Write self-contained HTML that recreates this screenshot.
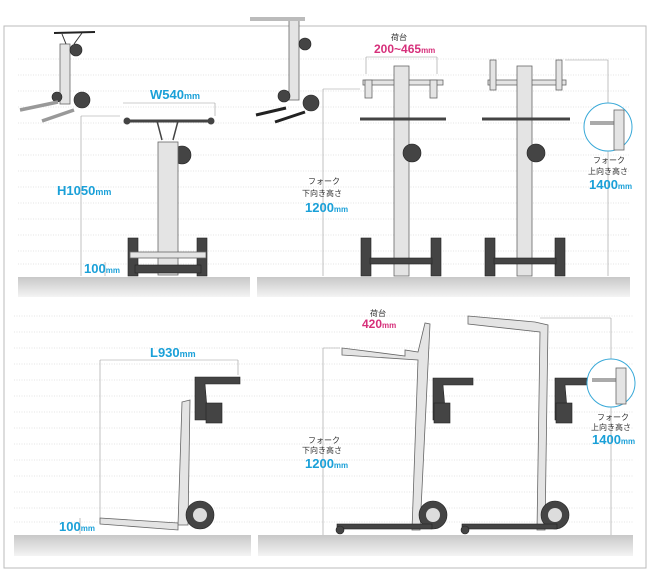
<!DOCTYPE html>
<html><head><meta charset="utf-8"><style>
body{margin:0;background:#fff;}
svg{display:block;font-family:"Liberation Sans","Noto Sans CJK JP",sans-serif;}
.b{fill:#1aa0d8;font-weight:bold;font-size:13px}
.p{fill:#d62f7a;font-weight:bold;font-size:12px}
.j{fill:#333;font-size:8px}
.d{stroke:#999;stroke-width:0.6;fill:none}
.g{stroke:#ccc;stroke-width:0.6;stroke-dasharray:1 1.5}
.al{fill:#e4e4e4;stroke:#666;stroke-width:0.8}
.dk{fill:#444;stroke:#222;stroke-width:0.6}
</style></head><body>
<svg width="650" height="577" viewBox="0 0 650 577">
<defs>
<linearGradient id="fl" x1="0" y1="0" x2="0" y2="1"><stop offset="0" stop-color="#c8c8c8"/><stop offset="1" stop-color="#f4f4f4"/></linearGradient>
</defs>
<rect x="4" y="26" width="642" height="542" fill="#fff" stroke="#bbb"/>
<g class="g">
<line x1="18" y1="59" x2="630" y2="59"/><line x1="18" y1="75" x2="630" y2="75"/><line x1="18" y1="91" x2="630" y2="91"/><line x1="18" y1="107" x2="630" y2="107"/><line x1="18" y1="123" x2="630" y2="123"/><line x1="18" y1="139" x2="630" y2="139"/><line x1="18" y1="155" x2="630" y2="155"/><line x1="18" y1="171" x2="630" y2="171"/><line x1="18" y1="187" x2="630" y2="187"/><line x1="18" y1="203" x2="630" y2="203"/><line x1="18" y1="219" x2="630" y2="219"/><line x1="18" y1="235" x2="630" y2="235"/><line x1="18" y1="251" x2="630" y2="251"/><line x1="18" y1="264" x2="630" y2="264"/>
<line x1="14" y1="316" x2="633" y2="316"/><line x1="14" y1="332" x2="633" y2="332"/><line x1="14" y1="348" x2="633" y2="348"/><line x1="14" y1="364" x2="633" y2="364"/><line x1="14" y1="380" x2="633" y2="380"/><line x1="14" y1="396" x2="633" y2="396"/><line x1="14" y1="412" x2="633" y2="412"/><line x1="14" y1="428" x2="633" y2="428"/><line x1="14" y1="444" x2="633" y2="444"/><line x1="14" y1="460" x2="633" y2="460"/><line x1="14" y1="476" x2="633" y2="476"/><line x1="14" y1="492" x2="633" y2="492"/><line x1="14" y1="508" x2="633" y2="508"/><line x1="14" y1="522" x2="633" y2="522"/>
</g>
<rect x="18" y="277" width="232" height="20" fill="url(#fl)"/>
<rect x="257" y="277" width="373" height="20" fill="url(#fl)"/>
<rect x="14" y="535" width="237" height="21" fill="url(#fl)"/>
<rect x="258" y="535" width="375" height="21" fill="url(#fl)"/>

<g>
<rect x="60" y="44" width="10" height="60" class="al"/><path d="M54 33 L95 32" stroke="#222" stroke-width="2" fill="none"/>
<path d="M62 34 L66 44 M82 33 L74 44" stroke="#333" stroke-width="1" fill="none"/>
<circle cx="76" cy="50" r="6" class="dk"/><circle cx="57" cy="97" r="5" class="dk"/><circle cx="82" cy="100" r="8" class="dk"/>
<path d="M20 110 L58 102 M42 121 L74 110" stroke="#999" stroke-width="3.5"/>
<rect x="289" y="20" width="10" height="80" class="al"/><rect x="250" y="17" width="55" height="4" fill="#bbb"/>
<circle cx="305" cy="44" r="6" class="dk"/><circle cx="284" cy="96" r="6" class="dk"/><circle cx="311" cy="103" r="8" class="dk"/>
<path d="M256 115 L286 108 M275 122 L305 112" stroke="#222" stroke-width="3"/>
</g>

<g>
<line x1="123" y1="103" x2="215" y2="103" class="d"/><line x1="215" y1="103" x2="215" y2="116" class="d"/>
<text x="150" y="99" class="b">W540<tspan font-size="9">mm</tspan></text>
<line x1="125" y1="121" x2="213" y2="121" stroke="#444" stroke-width="3"/><circle cx="127" cy="121" r="3.5" fill="#444"/><circle cx="211" cy="121" r="3.5" fill="#444"/>
<path d="M157 121 L162 140 M178 121 L173 140" stroke="#444" stroke-width="1.5" fill="none"/>
<circle cx="182" cy="155" r="9" class="dk"/>
<rect x="158" y="142" width="20" height="133" class="al"/>
<rect x="128" y="238" width="10" height="38" class="dk"/><rect x="197" y="238" width="10" height="38" class="dk"/>
<rect x="130" y="252" width="76" height="6" class="al"/><rect x="135" y="265" width="66" height="8" class="dk"/>
<line x1="81" y1="116" x2="81" y2="276" class="d"/><line x1="81" y1="116" x2="120" y2="116" class="d"/>
<text x="57" y="195" class="b">H1050<tspan font-size="9">mm</tspan></text>
<line x1="105" y1="262" x2="105" y2="276" class="d"/>
<text x="84" y="273" class="b" font-size="11">100<tspan font-size="8">mm</tspan></text>
</g>

<g>
<text x="391" y="40" class="j" font-size="9">荷台</text>
<text x="374" y="53" class="p">200~465<tspan font-size="8">mm</tspan></text>
<line x1="366" y1="57" x2="366" y2="74" class="d"/><line x1="437" y1="57" x2="437" y2="74" class="d"/><line x1="366" y1="57" x2="437" y2="57" class="d"/>
<rect x="363" y="80" width="80" height="5" class="al"/><rect x="365" y="80" width="7" height="18" class="al"/><rect x="430" y="80" width="7" height="18" class="al"/>
<rect x="394" y="66" width="15" height="210" class="al"/>
<line x1="360" y1="119" x2="446" y2="119" stroke="#444" stroke-width="3"/>
<circle cx="412" cy="153" r="9" class="dk"/>
<rect x="361" y="238" width="10" height="38" class="dk"/><rect x="431" y="238" width="10" height="38" class="dk"/><rect x="370" y="258" width="62" height="6" class="dk"/>
<line x1="323" y1="89" x2="323" y2="276" class="d"/><line x1="323" y1="89" x2="360" y2="89" class="d"/>
<text x="308" y="184" class="j">フォーク</text><text x="302" y="196" class="j">下向き高さ</text>
<text x="305" y="212" class="b" font-size="12">1200<tspan font-size="8">mm</tspan></text>

<rect x="488" y="80" width="78" height="5" class="al"/><rect x="490" y="60" width="6" height="30" class="al"/><rect x="556" y="60" width="6" height="30" class="al"/>
<rect x="517" y="66" width="15" height="210" class="al"/>
<line x1="482" y1="119" x2="570" y2="119" stroke="#444" stroke-width="3"/>
<circle cx="536" cy="153" r="9" class="dk"/>
<rect x="485" y="238" width="10" height="38" class="dk"/><rect x="555" y="238" width="10" height="38" class="dk"/><rect x="494" y="258" width="62" height="6" class="dk"/>
<line x1="565" y1="60" x2="608" y2="60" class="d"/><line x1="608" y1="60" x2="608" y2="276" class="d"/>
<circle cx="608" cy="127" r="24" fill="#fff" stroke="#39a9d8"/><rect x="590" y="121" width="30" height="4" fill="#aaa"/><rect x="614" y="110" width="10" height="40" class="al"/>
<text x="593" y="163" class="j">フォーク</text><text x="588" y="174" class="j">上向き高さ</text>
<text x="589" y="189" class="b" font-size="12">1400<tspan font-size="8">mm</tspan></text>
</g>

<g>
<line x1="100" y1="360" x2="238" y2="360" class="d"/><line x1="238" y1="360" x2="238" y2="375" class="d"/><line x1="100" y1="360" x2="100" y2="520" class="d"/>
<text x="150" y="357" class="b">L930<tspan font-size="9">mm</tspan></text>
<path d="M182 402 L190 400 L188 525 L178 525 Z" class="al"/>
<path d="M195 377 L240 377 L240 384 L205 384 L208 420 L195 420Z" class="dk"/>
<rect x="206" y="403" width="16" height="20" class="dk"/>
<path d="M100 518 L178 523 L178 530 L100 524Z" class="al"/>
<circle cx="200" cy="515" r="14" class="dk"/><circle cx="200" cy="515" r="7" fill="#ddd"/>
<line x1="80" y1="518" x2="80" y2="534" class="d"/>
<text x="59" y="531" class="b" font-size="11">100<tspan font-size="8">mm</tspan></text>

<text x="370" y="316" class="j" font-size="9">荷台</text>
<text x="362" y="328" class="p">420<tspan font-size="8">mm</tspan></text>
<path d="M342 348 L405 356 L405 350 L418 352 L425 323 L430 324 L420 530 L412 530 L418 360 L342 355Z" class="al"/>
<path d="M433 378 L473 378 L473 385 L443 385 L446 420 L433 420Z" class="dk"/>
<rect x="434" y="403" width="16" height="20" class="dk"/>
<circle cx="433" cy="515" r="14" class="dk"/><circle cx="433" cy="515" r="7" fill="#ddd"/>
<rect x="337" y="524" width="95" height="5" class="dk"/><circle cx="340" cy="530" r="4" class="dk"/>
<line x1="323" y1="348" x2="323" y2="535" class="d"/><line x1="323" y1="348" x2="340" y2="348" class="d"/>
<text x="308" y="443" class="j">フォーク</text><text x="302" y="453" class="j">下向き高さ</text>
<text x="305" y="468" class="b" font-size="12">1200<tspan font-size="8">mm</tspan></text>

<path d="M468 316 L535 322 L548 325 L545 530 L537 530 L540 332 L468 324Z" class="al"/>
<path d="M555 378 L593 378 L593 385 L565 385 L568 420 L555 420Z" class="dk"/>
<rect x="556" y="403" width="16" height="20" class="dk"/>
<circle cx="555" cy="515" r="14" class="dk"/><circle cx="555" cy="515" r="7" fill="#ddd"/>
<rect x="462" y="524" width="95" height="5" class="dk"/><circle cx="465" cy="530" r="4" class="dk"/>
<line x1="540" y1="318" x2="611" y2="318" class="d"/><line x1="611" y1="318" x2="611" y2="535" class="d"/>
<circle cx="611" cy="383" r="24" fill="#fff" stroke="#39a9d8"/><rect x="592" y="378" width="30" height="4" fill="#aaa"/><rect x="616" y="368" width="10" height="36" class="al"/>
<text x="597" y="420" class="j">フォーク</text><text x="591" y="430" class="j">上向き高さ</text>
<text x="592" y="444" class="b" font-size="12">1400<tspan font-size="8">mm</tspan></text>
</g>
</svg>
</body></html>
